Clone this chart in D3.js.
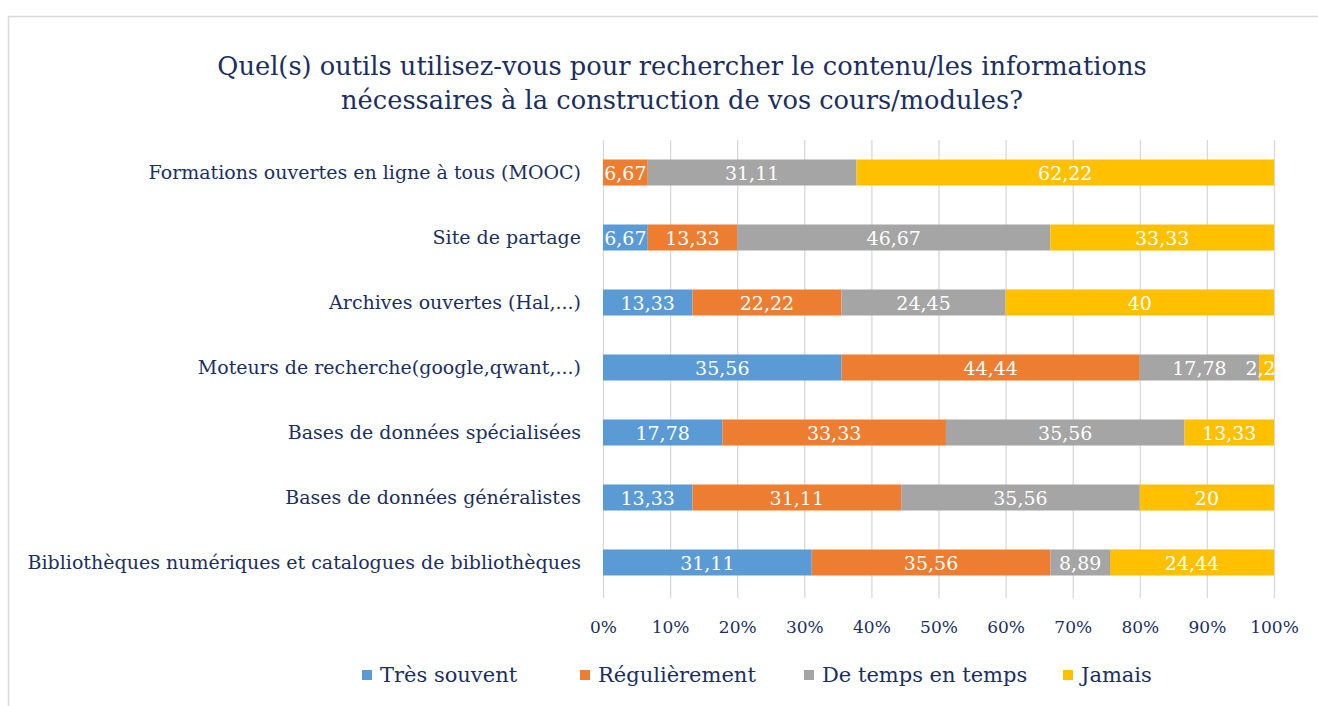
<!DOCTYPE html>
<html><head><meta charset="utf-8">
<script src="https://cdn.jsdelivr.net/npm/d3@7"></script>
<style>body{margin:0;background:#fff}svg{display:block}</style>
</head><body>
<script>
const categories = [
  "Formations ouvertes en ligne à tous (MOOC)",
  "Site de partage",
  "Archives ouvertes (Hal,...)",
  "Moteurs de recherche(google,qwant,...)",
  "Bases de données spécialisées",
  "Bases de données généralistes",
  "Bibliothèques numériques et catalogues de bibliothèques"
];
const seriesNames = ["Très souvent", "Régulièrement", "De temps en temps", "Jamais"];
const tresSouvent    = [0, 6.67, 13.33, 35.56, 17.78, 13.33, 31.11];
const regulierement  = [6.67, 13.33, 22.22, 44.44, 33.33, 31.11, 35.56];
const deTempsEnTemps = [31.11, 46.67, 24.45, 17.78, 35.56, 35.56, 8.89];
const jamais         = [62.22, 33.33, 40, 2.22, 13.33, 20, 24.44];
const xTicks = [0, 10, 20, 30, 40, 50, 60, 70, 80, 90, 100];
const titleLines = ["Quel(s) outils utilisez-vous pour rechercher le contenu/les informations",
                    "nécessaires à la construction de vos cours/modules?"];
const colors = ["#5B9BD5", "#ED7D31", "#A5A5A5", "#FFC000"];

const W = 1318, H = 706;
const font = "'DejaVu Serif', serif";
const ink = "#1B2F5E";
const svg = d3.select("body").append("svg").attr("width", W).attr("height", H);

svg.append("rect").attr("x", 8.5).attr("y", 16.5).attr("width", 1400).attr("height", 800)
  .attr("fill", "#fff").attr("stroke", "#d9d9d9").attr("stroke-width", 1.5);

const rows = categories.map((c, i) => {
  const o = {cat: c};
  o[seriesNames[0]] = tresSouvent[i];
  o[seriesNames[1]] = regulierement[i];
  o[seriesNames[2]] = deTempsEnTemps[i];
  o[seriesNames[3]] = jamais[i];
  return o;
});
const stack = d3.stack().keys(seriesNames).offset(d3.stackOffsetExpand)(rows);

const x = d3.scaleLinear().domain([0, 1]).range([603, 1274]);
const y = d3.scaleBand().domain(categories).range([140, 595]).paddingInner(0.6).paddingOuter(0.3);

// gridlines
svg.append("g").selectAll("line").data(xTicks).join("line")
  .attr("x1", d => x(d / 100) + 0.5).attr("x2", d => x(d / 100) + 0.5)
  .attr("y1", 140).attr("y2", 598)
  .attr("stroke", "#d9d9d9").attr("stroke-width", 1.3);

// bars
const g = svg.append("g");
g.selectAll("g").data(stack).join("g").attr("fill", (d, i) => colors[i])
  .selectAll("rect").data(d => d).join("rect")
  .attr("x", d => x(d[0])).attr("width", d => Math.max(0, x(d[1]) - x(d[0])))
  .attr("y", d => y(d.data.cat)).attr("height", y.bandwidth());

// clip for labels
svg.append("clipPath").attr("id", "plotclip").append("rect")
  .attr("x", 603).attr("y", 130).attr("width", 671).attr("height", 470);

const fmt = v => String(v).replace(".", ",");
const lbl = svg.append("g").attr("clip-path", "url(#plotclip)");
stack.forEach((s, si) => {
  lbl.selectAll(null).data(s.filter(d => d.data[s.key] > 0)).join("text")
    .attr("x", d => (x(d[0]) + x(d[1])) / 2)
    .attr("y", d => y(d.data.cat) + y.bandwidth() / 2 + 7)
    .attr("text-anchor", "middle").attr("fill", "#fff")
    .attr("font-family", font).attr("font-size", 19)
    .text(d => fmt(d.data[s.key]));
});

// category labels
svg.append("g").selectAll("text").data(categories).join("text")
  .attr("x", 581).attr("y", d => y(d) + y.bandwidth() / 2 + 6)
  .attr("text-anchor", "end").attr("fill", ink)
  .attr("font-family", font).attr("font-size", 19).text(d => d);

// axis
const axis = d3.axisBottom(x).tickValues(xTicks.map(d => d / 100)).tickFormat(d => Math.round(d * 100) + "%").tickSize(0).tickPadding(0);
const ax = svg.append("g").attr("transform", "translate(0,633)").call(axis);
ax.select(".domain").remove();
ax.selectAll("text").attr("fill", ink).attr("font-family", font).attr("font-size", 17).attr("dy", 0);

// title
svg.append("g").selectAll("text").data(titleLines).join("text")
  .attr("x", 682).attr("y", (d, i) => 75 + i * 34)
  .attr("text-anchor", "middle").attr("fill", ink)
  .attr("font-family", font).attr("font-size", 25.7).text(d => d);

// legend
const legX = [362, 580, 804, 1063];
const leg = svg.append("g").selectAll("g").data(seriesNames).join("g")
  .attr("transform", (d, i) => `translate(${legX[i]},675)`);
leg.append("rect").attr("x", 0).attr("y", -5).attr("width", 10).attr("height", 10).attr("fill", (d, i) => colors[i]);
leg.append("text").attr("x", 18).attr("y", 7).attr("fill", ink)
  .attr("font-family", font).attr("font-size", 21).text(d => d);
</script>
</body></html>
